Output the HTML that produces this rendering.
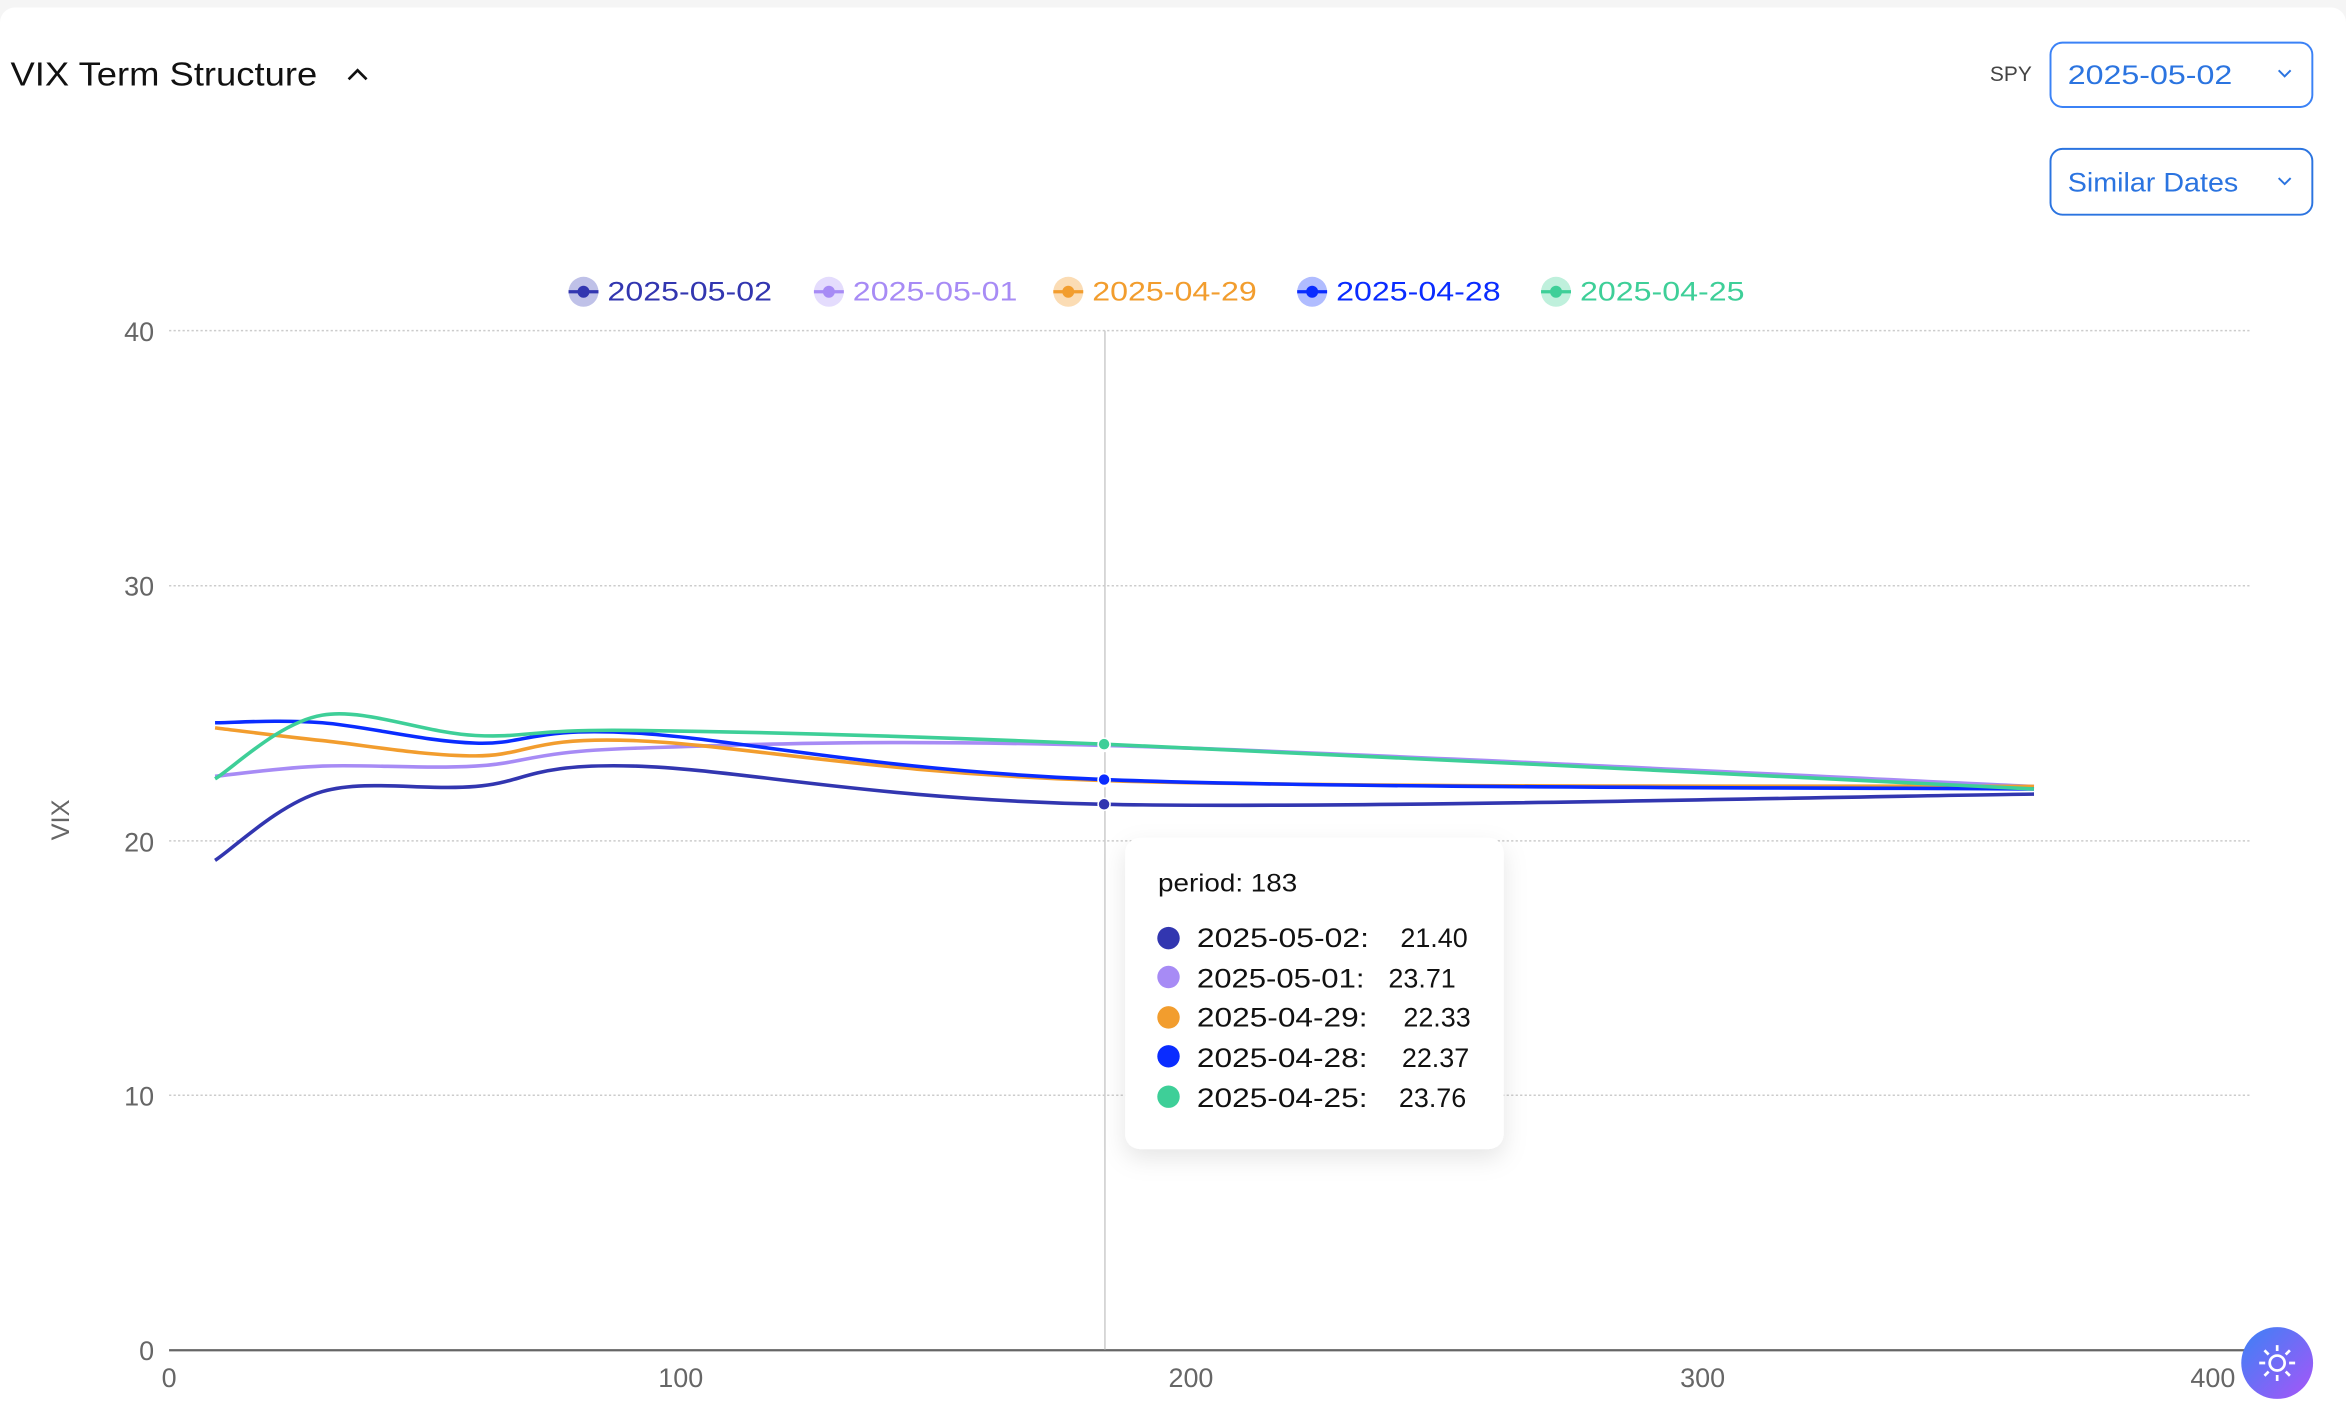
<!DOCTYPE html>
<html><head><meta charset="utf-8"><style>
html,body{margin:0;padding:0;background:#fff;}
body{width:2346px;height:1416px;overflow:hidden;font-family:"Liberation Sans",sans-serif;}
</style></head><body>
<svg id="s" width="2346" height="1416" viewBox="0 0 1568 946.4" xmlns="http://www.w3.org/2000/svg" font-family="Liberation Sans, sans-serif">
<defs>
<filter id="sh" x="-20%" y="-20%" width="140%" height="150%"><feDropShadow dx="0" dy="6" stdDeviation="8" flood-color="#000" flood-opacity="0.10"/></filter>
<linearGradient id="gg" x1="0" y1="0" x2="1" y2="1"><stop offset="0" stop-color="#3b82f6"/><stop offset="1" stop-color="#a855f7"/></linearGradient>
</defs>
<rect x="0" y="0" width="1568" height="947" fill="#f5f5f5"/>
<rect x="0" y="5" width="1568" height="960" rx="10" fill="#fff"/>
<text x="7" y="57" font-size="22" fill="#111" textLength="205" lengthAdjust="spacingAndGlyphs">VIX Term Structure</text>
<path d="M233 53 L239 47 L245 53" stroke="#111" stroke-width="1.8" fill="none"/>
<text x="1330" y="54" font-size="14" fill="#444">SPY</text>
<rect x="1370.5" y="28.5" width="175" height="43" rx="8" fill="#fff" stroke="#3b82f6" stroke-width="1.3"/>
<text x="1382" y="56" font-size="18" fill="#2b74e0" textLength="110" lengthAdjust="spacingAndGlyphs">2025-05-02</text>
<path d="M1523 47 L1527 51 L1531 47" stroke="#2b74e0" stroke-width="1.3" fill="none"/>
<rect x="1370.5" y="99.5" width="175" height="44" rx="8" fill="#fff" stroke="#2b74e0" stroke-width="1.3"/>
<text x="1382" y="128" font-size="18" fill="#2b74e0" textLength="114" lengthAdjust="spacingAndGlyphs">Similar Dates</text>
<path d="M1523 119 L1527 123 L1531 119" stroke="#2b74e0" stroke-width="1.3" fill="none"/>
<g id="legend" font-size="18"></g>
<g id="grid" stroke="#ccc" stroke-width="1" stroke-dasharray="1.5 1.5">
<line x1="113" y1="221" x2="1505" y2="221"/><line x1="113" y1="391.5" x2="1505" y2="391.5"/>
<line x1="113" y1="562" x2="1505" y2="562"/><line x1="113" y1="732" x2="1505" y2="732"/>
</g>
<line x1="113" y1="902.5" x2="1505" y2="902.5" stroke="#666" stroke-width="1.5"/>
<g font-size="18" fill="#666" text-anchor="end">
<text x="103" y="228">40</text><text x="103" y="398">30</text><text x="103" y="569">20</text><text x="103" y="739">10</text><text x="103" y="909">0</text>
</g>
<g font-size="18" fill="#666" text-anchor="middle">
<text x="113" y="927">0</text><text x="455" y="927">100</text><text x="796" y="927">200</text><text x="1138" y="927">300</text><text x="1479" y="927">400</text>
</g>
<text transform="translate(46,548) rotate(-90)" font-size="17" fill="#666" text-anchor="middle">VIX</text>
<line x1="738.5" y1="221" x2="738.5" y2="902" stroke="#ccc" stroke-width="1"/>
<g id="lines"></g>
<g filter="url(#sh)"><rect x="752" y="560" width="253" height="208" rx="10" fill="#fff"/></g>
<text x="774" y="596" font-size="17" fill="#111" textLength="93" lengthAdjust="spacingAndGlyphs">period: 183</text>
<g font-size="18" fill="#111">
<circle cx="781" cy="627" r="7.5" fill="#3236b0"/><text x="800" y="633" textLength="115" lengthAdjust="spacingAndGlyphs">2025-05-02:</text><text x="981" y="633" text-anchor="end">21.40</text>
<circle cx="781" cy="653" r="7.5" fill="#a78bf5"/><text x="800" y="660" textLength="112" lengthAdjust="spacingAndGlyphs">2025-05-01:</text><text x="973" y="660" text-anchor="end">23.71</text>
<circle cx="781" cy="680" r="7.5" fill="#f29d2e"/><text x="800" y="686" textLength="114" lengthAdjust="spacingAndGlyphs">2025-04-29:</text><text x="983" y="686" text-anchor="end">22.33</text>
<circle cx="781" cy="706" r="7.5" fill="#0a2cff"/><text x="800" y="713" textLength="114" lengthAdjust="spacingAndGlyphs">2025-04-28:</text><text x="982" y="713" text-anchor="end">22.37</text>
<circle cx="781" cy="733" r="7.5" fill="#3ecf98"/><text x="800" y="740" textLength="114" lengthAdjust="spacingAndGlyphs">2025-04-25:</text><text x="980" y="740" text-anchor="end">23.76</text>
</g>
<circle cx="1522" cy="911" r="24" fill="url(#gg)"/>
<g stroke="#fff" stroke-width="1.8" fill="none"><circle cx="1522" cy="911" r="5"/>
<path d="M1522 899v4M1522 919v4M1510 911h4M1530 911h4M1513.5 902.5l2.8 2.8M1527.7 916.7l2.8 2.8M1513.5 919.5l2.8-2.8M1527.7 905.3l2.8-2.8"/></g>
</svg>
<script>
var X=function(p){return 113+p*3.415;},Y=function(v){return 902-v*17.03;};
var per=[9,30,60,91,183,365];
var S=[
["2025-05-02","#3236b0","#bfc1e8",[19.2,21.9,22.1,22.9,21.40,21.8],390],
["2025-05-01","#a78bf5","#e4dcfd",[22.5,22.9,22.9,23.6,23.71,22.1],554],
["2025-04-29","#f29d2e","#fbdcb4",[24.4,23.9,23.3,23.9,22.33,22.1],714],
["2025-04-28","#0a2cff","#b0bcff",[24.6,24.6,23.8,24.2,22.37,22.0],877],
["2025-04-25","#3ecf98","#bff0dc",[22.4,24.9,24.1,24.3,23.76,22.0],1040]];
var ns="http://www.w3.org/2000/svg",L=document.getElementById("lines"),G=document.getElementById("legend");
function el(t,a,p){var e=document.createElementNS(ns,t);for(var k in a)e.setAttribute(k,a[k]);p.appendChild(e);return e;}
S.forEach(function(s){
 var P=per.map(function(p,i){return [X(p),Y(s[3][i])];});
 var d="M"+P[0][0]+" "+P[0][1];
 for(var i=0;i<P.length-1;i++){
  var p0=P[Math.max(0,i-1)],p1=P[i],p2=P[i+1],p3=P[Math.min(P.length-1,i+2)];
  var c1=[p1[0]+(p2[0]-p0[0])/6,p1[1]+(p2[1]-p0[1])/6],c2=[p2[0]-(p3[0]-p1[0])/6,p2[1]-(p3[1]-p1[1])/6];
  d+=" C"+c1+" "+c2+" "+p2;
 }
 el("path",{d:d,stroke:s[1],"stroke-width":2.4,fill:"none"},L);
 var lx=s[4];
 el("circle",{cx:lx,cy:195,r:10,fill:s[2]},G);
 el("line",{x1:lx-10,y1:195,x2:lx+10,y2:195,stroke:s[1],"stroke-width":2.2},G);
 el("circle",{cx:lx,cy:195,r:4,fill:s[1]},G);
 var t=el("text",{x:lx+16,y:201,fill:s[1],textLength:110,lengthAdjust:"spacingAndGlyphs"},G);t.textContent=s[0];
});
S.forEach(function(s){el("circle",{cx:X(183),cy:Y(s[3][4]),r:4,fill:s[1],stroke:"#fff","stroke-width":1},L);});
</script>
</body></html>
